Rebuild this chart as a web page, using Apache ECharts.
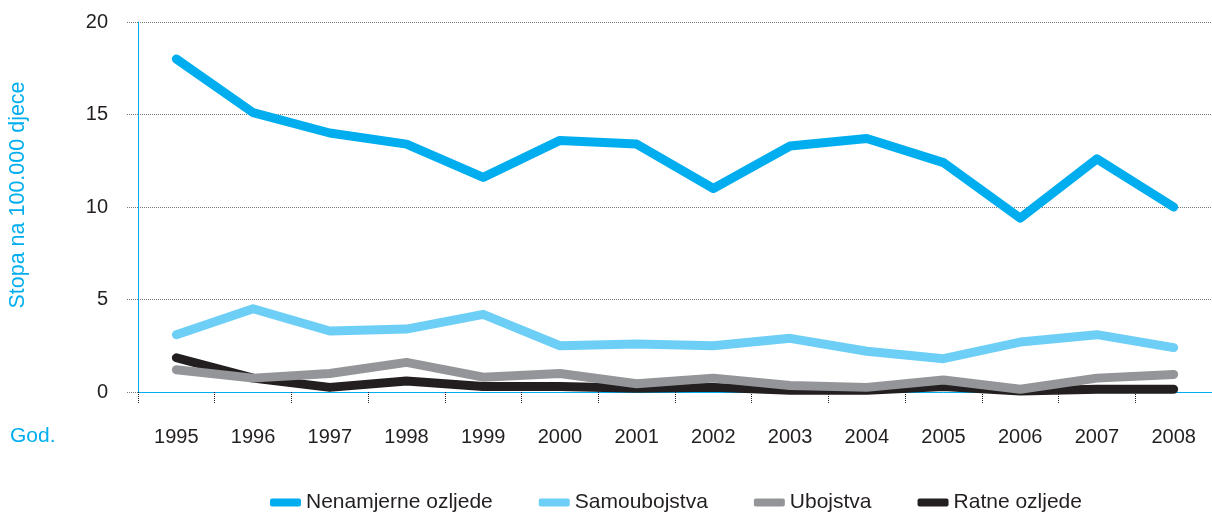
<!DOCTYPE html>
<html>
<head>
<meta charset="utf-8">
<script src="https://cdn.jsdelivr.net/npm/echarts@6/dist/echarts.min.js"></script>
<style>
html, body { margin: 0; padding: 0; background: #fff; }
#container { width: 1212px; height: 513px; }
</style>
</head>
<body>
<div id="container"></div>
<script>
var years = ['1995', '1996', '1997', '1998', '1999', '2000', '2001', '2002', '2003', '2004', '2005', '2006', '2007', '2008'];
var nenamjerne = [18.0, 15.1, 14.0, 13.4, 11.6, 13.6, 13.4, 11.0, 13.3, 13.7, 12.4, 9.4, 12.6, 10.0];
var samoubojstva = [3.1, 4.5, 3.3, 3.4, 4.2, 2.5, 2.6, 2.5, 2.9, 2.2, 1.8, 2.7, 3.1, 2.4];
var ubojstva = [1.2, 0.75, 1.0, 1.6, 0.8, 1.0, 0.45, 0.75, 0.35, 0.25, 0.65, 0.15, 0.75, 0.95];
var ratne = [1.85, 0.75, 0.25, 0.6, 0.3, 0.3, 0.2, 0.25, 0.1, 0.1, 0.3, 0.05, 0.15, 0.15];
var yTicks = [0, 5, 10, 15, 20];

var dom = document.getElementById('container');
var myChart = echarts.init(dom);
var FONT = '"Liberation Sans", Arial, sans-serif';

function makeSeries(name, data, color, z) {
    return {
        name: name,
        type: 'line',
        data: data,
        symbol: 'none',
        z: z,
        lineStyle: { width: 9, color: color, cap: 'round', join: 'round' },
        itemStyle: { color: color }
    };
}

var option = {
    animation: false,
    textStyle: { fontFamily: FONT },
    grid: { left: 138, top: 22, right: -4, bottom: 121 },
    legend: {
        top: 487,
        left: 265,
        itemWidth: 31,
        itemHeight: 8,
        itemGap: 46,
        icon: 'roundRect',
        textStyle: { fontSize: 21, color: '#231f20', fontFamily: FONT },
        data: ['Nenamjerne ozljede', 'Samoubojstva', 'Ubojstva', 'Ratne ozljede']
    },
    graphic: [{
        type: 'text',
        left: 10,
        top: 426,
        style: { text: 'God.', fontSize: 21, fill: '#00aeef', fontFamily: FONT }
    }, {
        type: 'text',
        x: 18,
        y: 195,
        rotation: Math.PI / 2,
        style: {
            text: 'Stopa na 100.000 djece',
            fontSize: 21.5,
            fill: '#00aeef',
            fontFamily: FONT,
            align: 'center',
            verticalAlign: 'middle'
        }
    }],
    xAxis: {
        type: 'category',
        data: years,
        boundaryGap: true,
        axisLine: { lineStyle: { color: '#00aeef', width: 1 } },
        axisTick: { show: true, interval: 0, length: 12, lineStyle: { color: '#231f20', type: 'dotted' } },
        axisLabel: { fontSize: 20, color: '#231f20', margin: 35, fontFamily: FONT },
        splitLine: { show: false }
    },
    yAxis: {
        type: 'value',
        min: yTicks[0],
        max: yTicks[yTicks.length - 1],
        interval: 5,
        axisLine: { show: true, lineStyle: { color: '#00aeef', width: 1 } },
        axisTick: { show: true, length: 12, lineStyle: { color: '#777', type: 'dotted' } },
        axisLabel: { fontSize: 20, color: '#231f20', margin: 30, fontFamily: FONT },
        splitLine: { lineStyle: { color: '#777', type: 'dotted' } }
    },
    series: [
        makeSeries('Nenamjerne ozljede', nenamjerne, '#00aeef', 4),
        makeSeries('Samoubojstva', samoubojstva, '#6dcff6', 3),
        makeSeries('Ratne ozljede', ratne, '#231f20', 1),
        makeSeries('Ubojstva', ubojstva, '#939598', 2)
    ]
};
myChart.setOption(option);
</script>
</body>
</html>
